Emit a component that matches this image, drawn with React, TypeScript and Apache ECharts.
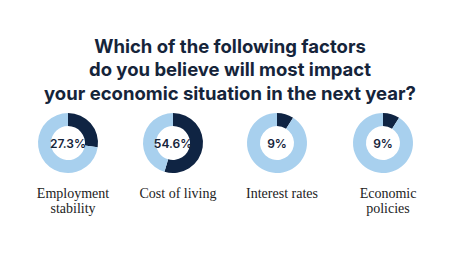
import React, { useEffect, useRef } from "react";
import * as echarts from "echarts";

const titleText = "Which of the following factors\ndo you believe will most impact\nyour economic situation in the next year?";
const categories = ["Employment\nstability", "Cost of living", "Interest rates", "Economic\npolicies"];
const values = [27.3, 54.6, 9, 9];
const centersX = [68, 173, 277, 383];

const DARK = "#0f2443";
const LIGHT = "#a8d0ee";
const TEXT = "#15243a";

export default function App() {
  const ref = useRef<HTMLDivElement>(null);
  useEffect(() => {
    if (!ref.current) return;
    const chart = echarts.init(ref.current, null, { renderer: "svg" });
    const series = values.map((v, i) => ({
      type: "pie",
      center: [centersX[i], 143],
      radius: [17, 30],
      startAngle: 90,
      clockwise: true,
      silent: true,
      labelLine: { show: false },
      label: { show: false },
      data: [
        {
          value: v,
          itemStyle: { color: DARK },
          label: {
            show: true,
            position: "center",
            formatter: "{c}%",
            fontFamily: "Inter",
            fontSize: 12,
            fontWeight: 600,
            color: TEXT,
          },
        },
        { value: +(100 - v).toFixed(1), itemStyle: { color: LIGHT } },
      ],
    }));
    const titles: any[] = [
      {
        text: titleText,
        left: 225,
        top: 29,
        textAlign: "center",
        textStyle: {
          fontFamily: "Inter",
          fontSize: 18.5,
          fontWeight: "bold",
          lineHeight: 23.5,
          color: TEXT,
        },
      },
      ...categories.map((c, i) => ({
        text: c,
        left: centersX[i],
        top: 181,
        textAlign: "center",
        textStyle: {
          fontFamily: "Liberation Serif",
          fontSize: 14,
          fontWeight: "normal",
          lineHeight: 15,
          color: "#222",
        },
      })),
    ];
    chart.setOption({
      animation: false,
      backgroundColor: "#fff",
      title: titles,
      series,
    });
    return () => chart.dispose();
  }, []);
  return <div ref={ref} style={{ width: 450, height: 271, position: "absolute", left: 0, top: 0 }} />;
}
